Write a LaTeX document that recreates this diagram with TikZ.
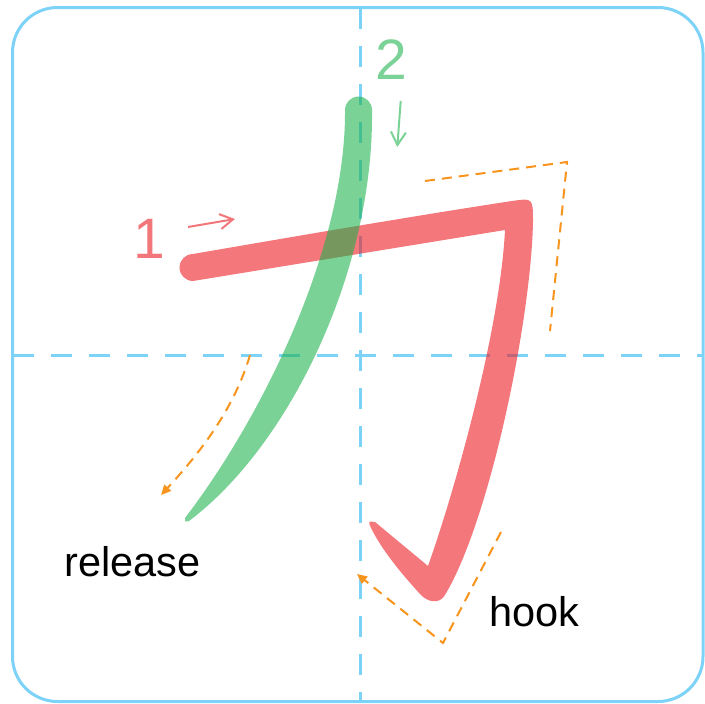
\documentclass[tikz,border=0pt]{standalone}
\usepackage{fontspec}
\setmainfont{Liberation Sans}
\usetikzlibrary{arrows.meta}
\definecolor{celeste}{HTML}{7DD3F7}
\definecolor{rojo}{HTML}{EB1C23}
\definecolor{verde}{HTML}{17B047}
\definecolor{rosa}{HTML}{F2777B}
\definecolor{verdeclaro}{HTML}{7BD296}
\definecolor{naranja}{HTML}{F7941D}
\tikzset{
  marco/.style={draw=celeste, line width=3pt, rounded corners=45pt},
  guia/.style={draw=celeste, line width=3pt, dash pattern=on 21pt off 17pt},
  trazor/.style={fill=rojo, fill opacity=0.6},
  trazov/.style={fill=verde, fill opacity=0.57},
  pista/.style={draw=naranja, line width=2pt, dash pattern=on 10pt off 7pt},
  puntaf/.style={-{Triangle[length=10pt,width=9pt]}},
  orden/.style={line width=2pt, -{Straight Barb[length=13pt,width=15pt]}},
  digito/.style={font=\fontsize{57}{60}\selectfont, inner sep=0pt, anchor=base},
  etiqueta/.style={font=\fontsize{41.5}{48}\selectfont, inner sep=0pt, anchor=base west}
}

\begin{document}
\begin{tikzpicture}[x=1pt, y=-1pt]
  \useasboundingbox (0,0) rectangle (705,704);
  % marco y guias
  \draw [marco] (12.5,7.5) rectangle (703,701.5);
  \draw [guia] (360.5,8) -- (360.5,701);
  \draw [guia] (13,355) -- (703,355);
  % trazo 1
  \fill [trazor] (193,254)
    .. controls (300,235.5) and (420,215) .. (512,201)
    .. controls (533,198) .. (533,222)
    .. controls (531,320) and (490,520) .. (445,595)
    .. controls (440,604) and (428,603) .. (420,594)
    .. controls (400,572) and (382,550) .. (371,528)
    .. controls (368,521) .. (375,522)
    -- (428,566)
    .. controls (455,490) and (500,330) .. (505,230)
    -- (193,281)
    arc [start angle=90, end angle=270, radius=13.5]
    -- cycle;
  % trazo 2
  \fill [trazov] (345,110)
    .. controls (346,250) and (260,420) .. (185,518)
    .. controls (185,522) .. (189,521)
    .. controls (290,445) and (374,270) .. (372,110)
    arc [start angle=0, end angle=-180, radius=13.5]
    -- cycle;
  % pistas
  \coordinate (g1) at (425,181);
  \coordinate (g2) at (567,162);
  \coordinate (g3) at (550,331);
  \draw [pista] (g1) -- (g2) -- (g3);
  \coordinate (s1) at (250,355);
  \coordinate (s2) at (161,495);
  \draw [pista, puntaf] (s1) .. controls (234,410) and (198,455) .. (s2);
  \coordinate (k1) at (501,532);
  \coordinate (k2) at (443,643);
  \coordinate (k3) at (357,574);
  \draw [pista, puntaf] (k1) -- (k2) -- (k3);
  % orden de trazos
  \node (uno) [digito, text=rosa] at (149,258) {1};
  \node (dos) [digito, text=verdeclaro] at (391,79) {2};
  \coordinate (a1i) at (188,227);
  \coordinate (a1f) at (235,219);
  \draw [orden, draw=rosa] (a1i) -- (a1f);
  \coordinate (a2i) at (400.7,101);
  \coordinate (a2f) at (397.3,147);
  \draw [orden, draw=verdeclaro] (a2i) -- (a2f);
  \node (suelta) [etiqueta] at (64,576) {release};
  \node (gancho) [etiqueta] at (489,626) {hook};
\end{tikzpicture}
\end{document}
